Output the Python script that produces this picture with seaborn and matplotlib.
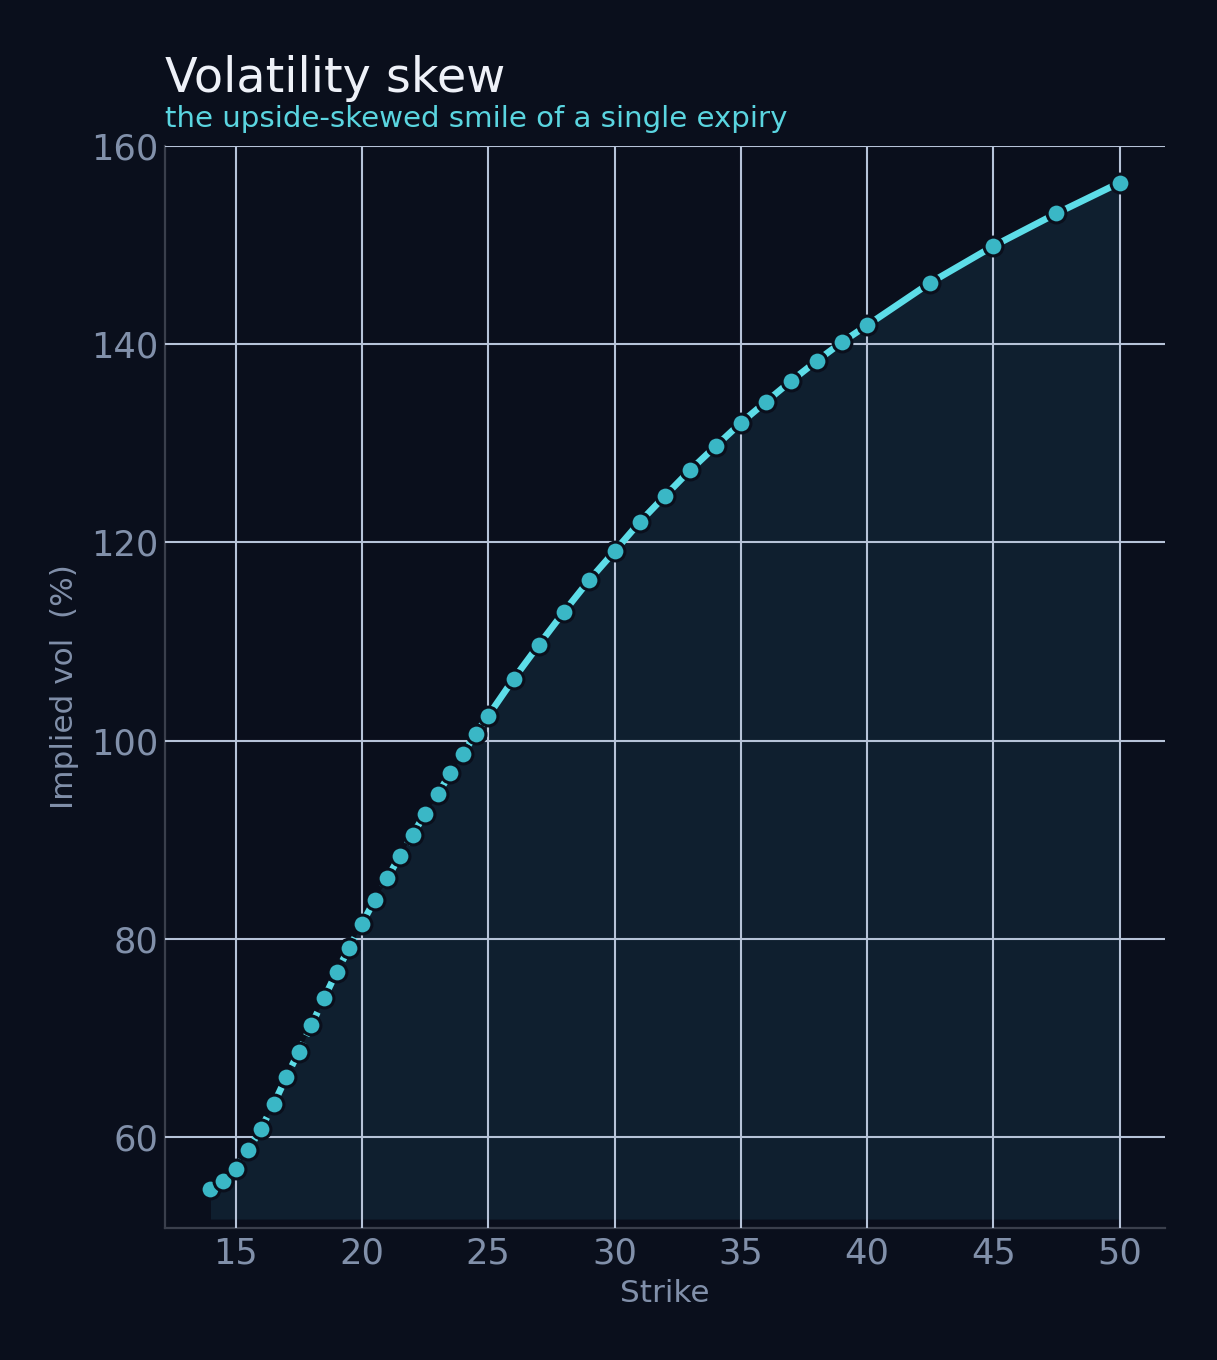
import seaborn as sns
import pandas as pd
import numpy as np
import matplotlib.pyplot as plt

# strikes and implied vols
strikes = [14, 14.5, 15, 15.5, 16, 16.5, 17, 17.5, 18, 18.5, 19, 19.5, 20, 20.5,
           21, 21.5, 22, 22.5, 23, 23.5, 24, 24.5, 25,
           26, 27, 28, 29, 30, 31, 32, 33, 34, 35, 36, 37, 38, 39, 40,
           42.5, 45, 47.5, 50]
implied_vol = [54.75, 55.5, 56.8, 58.7, 60.8, 63.3, 66.0, 68.6, 71.3, 74.0, 76.65, 79.1, 81.5, 83.9,
               86.1, 88.35, 90.5, 92.6, 94.6, 96.7, 98.65, 100.7, 102.5,
               106.2, 109.65, 113.0, 116.2, 119.1, 122.05, 124.7, 127.3, 129.7, 132.05, 134.2, 136.3, 138.3, 140.2, 141.9,
               146.2, 149.9, 153.2, 156.3]
dashed_until = 25  # strikes below this drawn with a broken line

x_ticks = [15, 20, 25, 30, 35, 40, 45, 50]
y_ticks = [60, 80, 100, 120, 140, 160]

bg = "#0a0f1c"
grid_c = "#b6c3d8"
label_c = "#8190aa"
line_c = "#5ddde8"
dot_c = "#3ab7c6"
fill_c = "#0f1f2f"

df = pd.DataFrame({"strike": strikes, "iv": implied_vol})
low = df[df["strike"] <= dashed_until]
high = df[df["strike"] >= dashed_until]

sns.set_style("dark")
plt.rcParams["font.family"] = ["DejaVu Sans"]

fig = plt.figure(figsize=(6.085, 6.8), dpi=200, facecolor=bg)
ax = fig.add_axes([0.1356, 0.0971, 0.8217, 0.7955])
ax.set_facecolor(bg)

ax.fill_between(df["strike"], df["iv"], 51.7, color=fill_c, lw=0, zorder=1)
ax.grid(True, color=grid_c, lw=0.75, zorder=2)
ax.set_axisbelow(False)

sns.lineplot(data=low, x="strike", y="iv", ax=ax, color=line_c, lw=2.4,
             linestyle=(0, (1.4, 1.1)), zorder=3)
sns.lineplot(data=high, x="strike", y="iv", ax=ax, color=line_c, lw=2.4,
             zorder=3, solid_capstyle="round")
sns.scatterplot(data=df, x="strike", y="iv", ax=ax, s=46, color=dot_c,
                edgecolor=bg, linewidth=1.1, zorder=4)

ax.set_xlim(12.2, 51.8)
ax.set_ylim(50.8, 160)
ax.set_xticks(x_ticks)
ax.set_yticks(y_ticks)
ax.tick_params(colors=label_c, labelsize=12.7, length=0, pad=2.3)
ax.tick_params(axis="x", pad=3)
ax.set_xlabel("Strike", color=label_c, fontsize=11.2, labelpad=3.2)
ax.set_ylabel("Implied vol  (%)", color=label_c, fontsize=11.2, labelpad=4.5)

for s in ["top", "right"]:
    ax.spines[s].set_visible(False)
for s in ["left", "bottom"]:
    ax.spines[s].set_visible(True)
    ax.spines[s].set_color("#3a3f4c")
    ax.spines[s].set_linewidth(0.8)

ax.text(0, 1 + 54 / 1082, "Volatility skew", transform=ax.transAxes,
        fontsize=17.2, color="#eef1f8", va="baseline", ha="left")
ax.text(0, 1 + 19 / 1082, "the upside-skewed smile of a single expiry",
        transform=ax.transAxes, fontsize=10.55, color="#5ad5e0",
        va="baseline", ha="left")

fig.savefig("out.png", dpi=200, facecolor=bg)
